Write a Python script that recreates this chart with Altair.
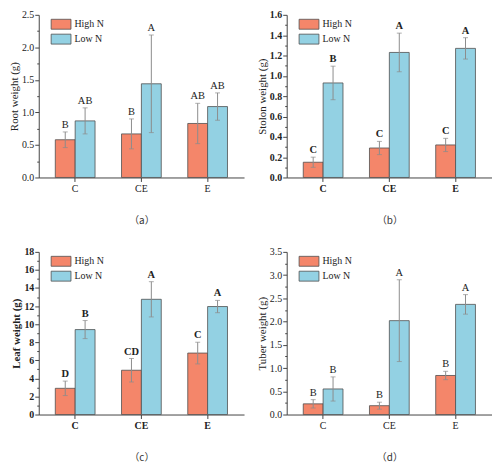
import altair as alt
import pandas as pd

categories = ["C", "CE", "E"]
groups = ["High N", "Low N"]
colors = ["#F4866A", "#93D1E3"]

# (a) Root weight
root_high = [0.58, 0.67, 0.83]
root_high_err = [0.12, 0.23, 0.31]
root_low = [0.87, 1.44, 1.09]
root_low_err = [0.20, 0.75, 0.21]
root_high_letters = ["B", "B", "AB"]
root_low_letters = ["AB", "A", "AB"]
root_ticks = [0.0, 0.5, 1.0, 1.5, 2.0, 2.5]

# (b) Stolon weight
stolon_high = [0.15, 0.29, 0.32]
stolon_high_err = [0.05, 0.065, 0.065]
stolon_low = [0.93, 1.23, 1.27]
stolon_low_err = [0.165, 0.19, 0.105]
stolon_high_letters = ["C", "C", "C"]
stolon_low_letters = ["B", "A", "A"]
stolon_ticks = [0.0, 0.2, 0.4, 0.6, 0.8, 1.0, 1.2, 1.4, 1.6]

# (c) Leaf weight
leaf_high = [2.9, 4.9, 6.8]
leaf_high_err = [0.8, 1.3, 1.2]
leaf_low = [9.4, 12.75, 11.95]
leaf_low_err = [1.0, 1.95, 0.68]
leaf_high_letters = ["D", "CD", "C"]
leaf_low_letters = ["B", "A", "A"]
leaf_ticks = [0, 2, 4, 6, 8, 10, 12, 14, 16, 18]

# (d) Tuber weight
tuber_high = [0.23, 0.19, 0.84]
tuber_high_err = [0.09, 0.075, 0.09]
tuber_low = [0.55, 2.02, 2.37]
tuber_low_err = [0.26, 0.88, 0.21]
tuber_high_letters = ["B", "B", "B"]
tuber_low_letters = ["B", "A", "A"]
tuber_ticks = [0.0, 0.5, 1.0, 1.5, 2.0, 2.5, 3.0, 3.5]

SERIF = "Liberation Serif"
W, H = 207, 164
AX = "#444444"
ERR = "#8c8c8c"


def panel(high, high_err, low, low_err, hl, ll, ticks, fmt, ytitle, caption,
          bold=False, title_bold=False):
    df = pd.DataFrame({
        "cat": categories * 2,
        "group": [groups[0]] * 3 + [groups[1]] * 3,
        "mean": high + low,
        "err": high_err + low_err,
        "letter": hl + ll,
    })
    df["lo"] = df["mean"] - df["err"]
    df["hi"] = df["mean"] + df["err"]
    minors = [(ticks[i] + ticks[i + 1]) / 2 for i in range(len(ticks) - 1)]
    fw = "bold" if bold else "normal"
    yscale = alt.Scale(domain=[ticks[0], ticks[-1]], nice=False, zero=True)

    x = alt.X("cat:N", sort=categories,
              scale=alt.Scale(paddingInner=0.4, paddingOuter=0.25),
              axis=alt.Axis(title=caption, titleFont="Noto Sans CJK SC",
                            titleFontSize=10, titleFontWeight="normal",
                            titleColor="#333333", titlePadding=22,
                            labelAngle=0, labelFont=SERIF, labelFontSize=10,
                            labelFontWeight=fw, labelColor="#222222",
                            tickSize=4, labelPadding=2, domainColor=AX,
                            tickColor=AX, grid=False))
    xo = alt.XOffset("group:N", sort=groups,
                     scale=alt.Scale(paddingInner=0, paddingOuter=0))

    base = alt.Chart(df)
    bars = base.mark_bar(stroke="#505050", strokeWidth=0.8).encode(
        x=x, xOffset=xo,
        y=alt.Y("mean:Q", scale=yscale,
                axis=alt.Axis(title=ytitle, titleFont=SERIF, titleFontSize=11,
                              titleFontWeight="bold" if title_bold else "normal",
                              titleColor="#222222", titlePadding=2,
                              labelFont=SERIF, labelFontSize=10,
                              labelFontWeight=fw, labelColor="#222222",
                              labelPadding=1, tickSize=4, values=ticks,
                              format=fmt, grid=False, domainColor=AX,
                              tickColor=AX)),
        color=alt.Color("group:N", sort=groups,
                        scale=alt.Scale(domain=groups, range=colors),
                        legend=alt.Legend(title=None, orient="none",
                                          legendX=17, legendY=4,
                                          symbolType="M-2,-1H2V1H-2Z",
                                          symbolSize=100,
                                          symbolStrokeColor="#505050",
                                          symbolStrokeWidth=0.8,
                                          symbolOpacity=1,
                                          labelFont=SERIF, labelFontSize=10,
                                          labelColor="#222222",
                                          rowPadding=0, labelOffset=8)),
    )
    rules = base.mark_rule(color=ERR, strokeWidth=1).encode(
        x=x, xOffset=xo,
        y=alt.Y("lo:Q", scale=yscale, axis=None), y2="hi:Q")
    cap_hi = base.mark_tick(color=ERR, thickness=1, size=5).encode(
        x=x, xOffset=xo, y=alt.Y("hi:Q", scale=yscale, axis=None))
    cap_lo = base.mark_tick(color=ERR, thickness=1, size=5).encode(
        x=x, xOffset=xo, y=alt.Y("lo:Q", scale=yscale, axis=None))
    text = base.mark_text(dy=-7, font=SERIF, fontSize=10.5, fontWeight=fw,
                          color="#222222").encode(
        x=x, xOffset=xo, y=alt.Y("hi:Q", scale=yscale, axis=None),
        text="letter:N")
    minor = base.mark_rule(opacity=0).encode(
        y=alt.Y("mean:Q", scale=yscale,
                axis=alt.Axis(orient="left", values=minors, labels=False,
                              domain=False, tickSize=2, title=None,
                              grid=False, tickColor=AX)))
    return alt.layer(bars, rules, cap_hi, cap_lo, text, minor).resolve_axis(
        y="independent").properties(width=W, height=H)


pa = panel(root_high, root_high_err, root_low, root_low_err,
           root_high_letters, root_low_letters, root_ticks, ".1f",
           "Root  weight (g)", "（a）")
pb = panel(stolon_high, stolon_high_err, stolon_low, stolon_low_err,
           stolon_high_letters, stolon_low_letters, stolon_ticks, ".1f",
           "Stolon  weight (g)", "（b）", bold=True)
pc = panel(leaf_high, leaf_high_err, leaf_low, leaf_low_err,
           leaf_high_letters, leaf_low_letters, leaf_ticks, "d",
           "Leaf  weight (g)", "（c）", bold=True, title_bold=True)
pd_ = panel(tuber_high, tuber_high_err, tuber_low, tuber_low_err,
            tuber_high_letters, tuber_low_letters, tuber_ticks, ".1f",
            "Tuber  weight (g)", "（d）")

row1 = alt.hconcat(pa, pb, spacing=12).resolve_scale(color="independent").resolve_legend(color="independent")
row2 = alt.hconcat(pc, pd_, spacing=12).resolve_scale(color="independent").resolve_legend(color="independent")

chart = alt.vconcat(row1, row2, spacing=22).resolve_scale(
    color="independent").resolve_legend(color="independent").properties(
    padding={"left": 0, "top": 0, "right": 0, "bottom": 0},
    background="white",
).configure_view(stroke=None)

chart.save("out.html", embed_options={"renderer": "svg", "actions": False})
